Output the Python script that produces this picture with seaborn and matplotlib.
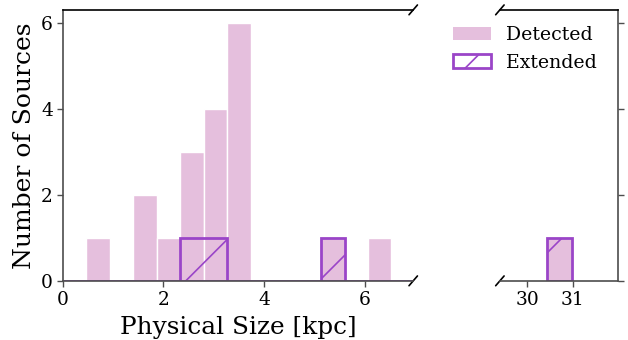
import numpy as np
import pandas as pd
import seaborn as sns
import matplotlib.pyplot as plt
from matplotlib.patches import Patch

# histogram bins/counts
det_edges = [0.47, 0.936, 1.402, 1.868, 2.334, 2.80, 3.266, 3.732,
             4.198, 4.664, 5.13, 5.596, 6.062, 6.528]
det_counts = [1, 0, 2, 1, 3, 4, 6, 0, 0, 0, 1, 0, 1]
ext_edges = [0.0, 2.334, 3.266, 5.13, 5.596, 7.2]
ext_counts = [0, 1, 0, 1, 0]
far_edges = [30.44, 30.99]
far_det_counts = [1]
far_ext_counts = [1]

det_color = '#e5bfdd'
ext_color = '#9a45c8'


def to_frame(edges, counts):
    mids = [(a + b) / 2 for a, b in zip(edges[:-1], edges[1:])]
    return pd.DataFrame({'size': mids, 'n': counts})


sns.set_style('ticks')
plt.rcParams['font.family'] = ['DejaVu Serif']
plt.rcParams['hatch.linewidth'] = 0.6
plt.rcParams['hatch.color'] = ext_color
plt.rcParams['text.color'] = 'black'
plt.rcParams['axes.labelcolor'] = 'black'
plt.rcParams['xtick.labelcolor'] = 'black'
plt.rcParams['ytick.labelcolor'] = 'black'

fig = plt.figure(figsize=(3.14, 1.70), dpi=200)
ax1 = fig.add_axes([0.100, 0.174, 0.558, 0.797])
ax2 = fig.add_axes([0.796, 0.174, 0.188, 0.797])

for ax, de, dc, ee, ec in [(ax1, det_edges, det_counts, ext_edges, ext_counts),
                           (ax2, far_edges, far_det_counts, far_edges, far_ext_counts)]:
    sns.histplot(data=to_frame(de, dc), x='size', weights='n', bins=de, ax=ax,
                 color=det_color, alpha=1, edgecolor='white', linewidth=0.5)
    sns.histplot(data=to_frame(ee, ec), x='size', weights='n', bins=ee, ax=ax,
                 fill=False, color=ext_color, edgecolor=ext_color,
                 linewidth=1.0, hatch='/')
    ax.set_ylim(0, 6.3)
    ax.set_xlabel('')
    ax.set_ylabel('')
    ax.set_yticks([0, 2, 4, 6])
    ax.tick_params(length=2, width=0.5, labelsize=6.7, pad=1.5, color='0.3')
    for s in ax.spines.values():
        s.set_linewidth(0.6)
        s.set_color('0.3')

ax1.set_xlim(0, 6.96)
ax1.set_xticks([0, 2, 4, 6])
ax1.spines['right'].set_visible(False)
ax1.spines['top'].set_visible(True)
ax1.spines['top'].set_color('black')
ax1.set_ylabel('Number of Sources', fontsize=9.0, labelpad=2)
ax1.set_xlabel('Physical Size [kpc]', fontsize=8.9)
ax1.xaxis.set_label_coords(0.5, -0.13)

ax2.set_xlim(29.4, 32.0)
ax2.set_xticks([30, 31])
ax2.spines['left'].set_visible(False)
ax2.spines['top'].set_visible(True)
ax2.spines['top'].set_color('black')
ax2.spines['right'].set_visible(True)
ax2.yaxis.tick_right()
ax2.tick_params(axis='y', labelright=False)

# break marks
d = 0.012
kw = dict(color='k', lw=0.6, clip_on=False)
ax1.plot((1 - d, 1 + d), (-d * 1.5, d * 1.5), transform=ax1.transAxes, **kw)
ax1.plot((1 - d, 1 + d), (1 - d * 1.5, 1 + d * 1.5), transform=ax1.transAxes, **kw)
d2 = d * 0.558 / 0.188
ax2.plot((-d2, d2), (-d * 1.5, d * 1.5), transform=ax2.transAxes, **kw)
ax2.plot((-d2, d2), (1 - d * 1.5, 1 + d * 1.5), transform=ax2.transAxes, **kw)

handles = [Patch(facecolor=det_color, edgecolor='none', label='Detected'),
           Patch(facecolor='white', edgecolor=ext_color, hatch='/', lw=1.0, label='Extended')]
fig.legend(handles=handles, loc='upper left', bbox_to_anchor=(0.71, 0.945),
           frameon=False, fontsize=6.8, handlelength=2.0, handleheight=0.7,
           handletextpad=0.8, labelspacing=0.5, borderaxespad=0)

fig.savefig('out.png', dpi=200)
